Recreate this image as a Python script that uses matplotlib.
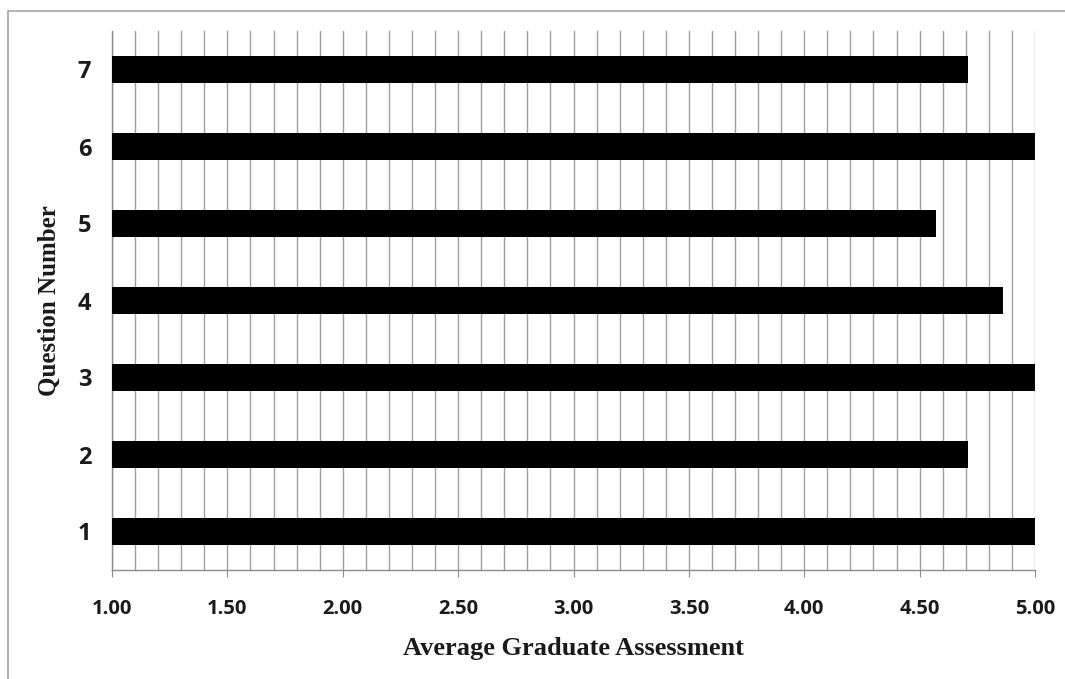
import matplotlib.pyplot as plt
from matplotlib.patches import Rectangle
from matplotlib.ticker import MultipleLocator, FormatStrFormatter

# Average graduate assessment per question
questions = [1, 2, 3, 4, 5, 6, 7]
scores = [5.00, 4.71, 5.00, 4.86, 4.57, 5.00, 4.71]

x_label = "Average Graduate Assessment"
y_label = "Question Number"

fig = plt.figure(figsize=(10.65, 6.79), dpi=100)
ax = fig.add_axes([112 / 1065, 109 / 679, 923 / 1065, 539 / 679])

# gray frame around the whole chart (open to the right and bottom)
fig.patches.append(Rectangle((8 / 1065, -0.1), 1.2, (679 - 11) / 679 + 0.1,
                             transform=fig.transFigure, fill=False,
                             edgecolor="#a6a6a6", linewidth=1.2))

ax.barh(questions, scores, height=0.34, color="black", zorder=3)

ax.set_xlim(1.0, 5.0)
ax.set_ylim(0.5, 7.5)
ax.xaxis.set_major_locator(MultipleLocator(0.5))
ax.xaxis.set_minor_locator(MultipleLocator(0.1))
ax.xaxis.set_major_formatter(FormatStrFormatter("%.2f"))
ax.set_yticks(questions)

ax.grid(axis="x", which="both", color="#a0a0a0", linewidth=1.0, zorder=0)
ax.set_axisbelow(True)

for side in ("top", "right"):
    ax.spines[side].set_visible(False)
for side in ("left", "bottom"):
    ax.spines[side].set_color("#8c8c8c")
    ax.spines[side].set_linewidth(1.0)

ax.tick_params(axis="x", which="major", length=5, color="#8c8c8c",
               pad=16, labelsize=14.5)
ax.tick_params(axis="x", which="minor", length=0)
ax.tick_params(axis="y", length=0, pad=15, labelsize=17)
for lbl in ax.get_xticklabels() + ax.get_yticklabels():
    lbl.set_fontfamily("Open Sans")
    lbl.set_fontweight("bold")
    lbl.set_color("#1a1a1a")

ax.set_xlabel(x_label, family="Liberation Serif", weight="bold",
              fontsize=19, labelpad=13, color="#1a1a1a")
ax.set_ylabel(y_label, family="Liberation Serif", weight="bold",
              fontsize=18, labelpad=12, color="#1a1a1a")

fig.savefig("out.png", dpi=100)
